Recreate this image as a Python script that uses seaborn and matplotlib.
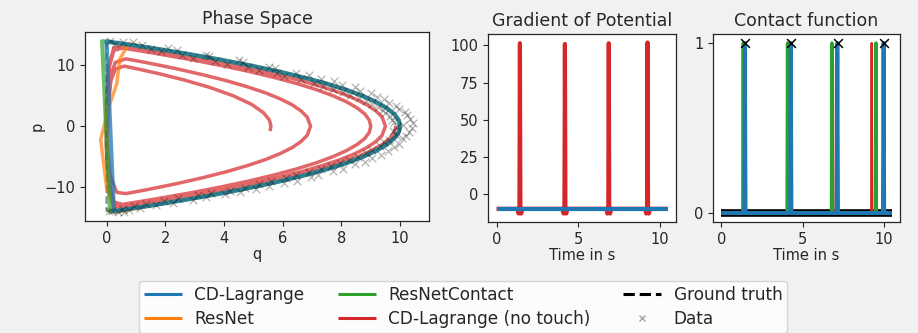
import matplotlib
matplotlib.use("Agg")
import matplotlib.pyplot as plt
from matplotlib.lines import Line2D
import seaborn as sns

# ---------------- data: phase space ----------------
# interior points of the outer (true) orbit
upper_p = [13, 12, 11, 10, 9, 8, 7, 6, 5, 4, 3, 2, 1, 0]
upper_q = [1.38, 2.65, 3.83, 4.90, 5.87, 6.73, 7.50, 8.16, 8.72, 9.18, 9.54, 9.80, 9.95, 10.0]
lower_p = [0, -1, -2, -3, -4, -5, -6, -7, -8, -9, -10, -11, -12, -13]
lower_q = [10.0, 9.95, 9.80, 9.55, 9.20, 8.75, 8.21, 7.56, 6.81, 5.97, 5.03, 3.98, 2.83, 1.60]

# bounce (left edge) points of each model
blue_bounce_q = [0.25, 0.0]
blue_bounce_p = [-14.0, 14.0]
green_bounce_q = [0.12, -0.15]
green_bounce_p = [-14.1, 14.0]
orange_bounce_q = [0.30, 0.0, -0.2, 0.1, 0.35, 0.45, 0.75]
orange_bounce_p = [-14.2, -10.0, -2.2, 3.5, 7.0, 11.0, 13.6]
gt_bounce_q = [0.0, 0.0]
gt_bounce_p = [-14.0, 14.0]

# CD-Lagrange (no touch): spiralling orbit
red_seg0_q = [9.85, 9.80, 9.65, 9.39, 9.03, 8.57, 8.01, 7.35, 6.58, 5.72, 4.75, 3.68, 2.50, 1.23, 0.55]
red_seg0_p = [0, -1, -2, -3, -4, -5, -6, -7, -8, -9, -10, -11, -12, -13, -13.5]
red_b1_q = [0.25, 0.08, 0.0, 0.0, 0.08, 0.25]
red_b1_p = [-13.1, -10, -4, 4, 10, 12.9]
red_a_up_q = [0.55, 1.53, 2.75, 3.88, 4.90, 5.81, 6.63, 7.34, 7.96, 8.47, 8.875, 9.18, 9.385, 9.5]
red_a_up_p = [13.24, 12.5, 11.5, 10.5, 9.5, 8.5, 7.5, 6.5, 5.5, 4.5, 3.5, 2.5, 1.5, 0]
red_a_lo_q = [9.385, 9.18, 8.875, 8.47, 7.96, 7.34, 6.63, 5.81, 4.90, 3.88, 2.75, 1.53, 0.55]
red_a_lo_p = [-1.5, -2.5, -3.5, -4.5, -5.5, -6.5, -7.5, -8.5, -9.5, -10.5, -11.5, -12.5, -13.24]
red_b2_q = [0.25, 0.08, 0.0, 0.0, 0.08, 0.25]
red_b2_p = [-12.8, -9.5, -4, 4, 9.5, 12.5]
red_b_up_q = [0.55, 1.65, 2.83, 3.90, 4.87, 5.73, 6.50, 7.16, 7.72, 8.18, 8.54, 8.80, 8.95, 9.0]
red_b_up_p = [12.87, 12, 11, 10, 9, 8, 7, 6, 5, 4, 3, 2, 1, 0]
red_b_lo_q = [8.95, 8.80, 8.54, 8.18, 7.72, 7.16, 6.50, 5.73, 4.87, 3.90, 2.83, 1.65, 0.55]
red_b_lo_p = [-1, -2, -3, -4, -5, -6, -7, -8, -9, -10, -11, -12, -12.87]
red_b3_q = [0.25, 0.08, 0.0, 0.05, 0.15, 0.30]
red_b3_p = [-12.5, -9, -3, 4, 8.5, 10.5]
red_c_up_q = [0.66, 1.33, 2.35, 3.26, 4.08, 4.79, 5.41, 5.92, 6.33, 6.63, 6.835, 6.95]
red_c_up_p = [11.1, 10.5, 9.5, 8.5, 7.5, 6.5, 5.5, 4.5, 3.5, 2.5, 1.5, 0]
red_c_lo_q = [6.835, 6.63, 6.33, 5.92, 5.41, 4.79, 4.08, 3.26, 2.35, 1.33, 0.66]
red_c_lo_p = [-1.5, -2.5, -3.5, -4.5, -5.5, -6.5, -7.5, -8.5, -9.5, -10.5, -11.1]
red_b4_q = [0.35, 0.12, 0.02, 0.05, 0.15, 0.30]
red_b4_p = [-10.9, -8, -3, 3, 7.5, 9.4]
red_end_q = [0.60, 1.09, 1.83, 2.65, 3.51, 4.32, 4.94, 5.35, 5.55, 5.6, 5.57]
red_end_p = [9.9, 9.4, 8.6, 7.6, 6.4, 5.0, 3.6, 2.2, 1.0, 0, -0.8]

# noisy observations
data_q = [0.12, 0.55, 1.52, 2.10, 2.58, 3.40, 3.70, 4.51, 4.82, 5.55, 5.80, 6.45, 6.62, 7.30, 7.38,
          8.02, 8.05, 8.65, 8.60, 9.20, 9.05, 9.62, 9.40, 9.95, 9.65, 10.25, 9.80, 10.35, 10.10,
          10.40, 9.75, 10.20, 9.62, 9.95, 9.30, 9.60, 8.85, 9.05, 8.25, 8.45, 7.65, 7.70, 6.90, 6.95,
          6.10, 6.05, 5.20, 5.10, 4.20, 4.05, 3.10, 2.95, 1.95, 1.70, 0.95, 0.75, 0.40, 0.20,
          0.30, 0.90, 1.20, 1.85, 2.40, 2.95, 3.50, 4.10, 4.65, 5.20, 5.75, 6.05, 6.90, 7.05, 7.75,
          7.70, 8.45, 8.30, 9.00, 8.85, 9.45, 9.25, 9.85, 9.50, 10.15, 9.72, 10.45, 9.90,
          10.30, 9.85, 10.05, 9.45, 9.80, 9.05, 9.35, 8.55, 8.80, 7.95, 8.05, 7.30, 7.20, 6.45, 6.50,
          5.60, 5.55, 4.70, 4.55, 3.55, 3.40, 2.45, 2.25, 1.35, 1.15, 0.55, 0.60, 0.10]
data_p = [14.1, 13.8, 12.7, 12.9, 11.7, 11.8, 10.7, 10.9, 9.7, 9.8, 8.7, 8.8, 7.7, 7.8, 6.7,
          6.8, 5.7, 5.8, 4.7, 4.8, 3.7, 3.8, 2.7, 2.8, 1.7, 1.8, 0.7, 1.2, 0.2,
          -0.3, -0.8, -1.6, -2.2, -2.9, -3.3, -4.1, -4.4, -5.2, -5.6, -6.3, -6.6, -7.4, -7.6, -8.4,
          -8.6, -9.4, -9.6, -10.3, -10.6, -11.2, -11.4, -12.1, -12.3, -12.9, -13.2, -13.8, -14.2, -13.9,
          13.6, 13.9, 13.3, 12.4, 12.6, 11.3, 11.5, 10.3, 10.6, 9.3, 9.6, 8.2, 8.4, 7.1, 7.4,
          6.1, 6.4, 5.1, 5.4, 4.1, 4.4, 3.1, 3.4, 2.1, 2.4, 1.1, 0.6, -0.2,
          -0.9, -1.4, -2.0, -2.6, -3.5, -3.9, -4.7, -5.0, -5.9, -6.1, -7.0, -7.1, -8.0, -8.1, -9.0,
          -9.1, -9.9, -10.1, -10.9, -11.0, -11.7, -11.9, -12.6, -12.8, -13.5, -13.6, -14.1, -14.0]

# ---------------- data: gradient of potential ----------------
grad_t_blue = [0.0, 10.45]
grad_blue = [-9.8, -9.8]
grad_t_red = [0.0, 1.28, 1.35, 1.40, 1.43, 1.46, 1.51, 1.58,
              4.03, 4.10, 4.15, 4.18, 4.21, 4.26, 4.33,
              6.71, 6.78, 6.83, 6.86, 6.89, 6.94, 7.01,
              9.08, 9.15, 9.20, 9.23, 9.26, 9.31, 9.38, 10.45]
grad_red = [-9.8, -9.8, -13.0, -9.5, 101.5, -9.5, -13.0, -9.8,
            -9.8, -13.0, -9.5, 101.0, -9.5, -13.0, -9.8,
            -9.8, -13.0, -9.5, 101.5, -9.5, -13.0, -9.8,
            -9.8, -13.0, -9.5, 102.0, -9.5, -13.0, -9.8, -9.8]

# ---------------- data: contact function ----------------
con_t_blue = [0.0, 1.40, 1.44, 1.48, 4.22, 4.26, 4.30, 7.08, 7.12, 7.16, 9.92, 9.96, 10.0, 10.45]
con_blue = [0, 0, 1, 0, 0, 1, 0, 0, 1, 0, 0, 1, 0, 0]
con_t_green = [0.0, 1.31, 1.34, 1.37, 4.03, 4.06, 4.09, 6.76, 6.79, 6.82, 9.46, 9.49, 9.52, 10.45]
con_green = [0, 0, 1, 0, 0, 1, 0, 0, 1, 0, 0, 1, 0, 0]
con_t_red = [0.0, 1.40, 1.43, 1.46, 4.14, 4.17, 4.20, 6.82, 6.85, 6.88, 9.20, 9.23, 9.26, 10.45]
con_red = [0, 0, 1, 0, 0, 1, 0, 0, 0.88, 0, 0, 1, 0, 0]
con_t_gt = [0.0, 10.45]
con_gt = [0, 0]
con_t_data = [1.44, 4.28, 7.14, 10.0]
con_data = [1, 1, 1, 1]

labels = ["CD-Lagrange", "ResNet", "ResNetContact", "CD-Lagrange (no touch)", "Ground truth", "Data"]

# ---------------- style ----------------
sns.set_style("ticks")
plt.rcParams.update({
    "figure.facecolor": "#f1f1f1",
    "axes.edgecolor": "0.15",
    "axes.linewidth": 0.9,
    "xtick.color": "0.15",
    "ytick.color": "0.15",
    "xtick.labelsize": 10.5,
    "ytick.labelsize": 10.5,
    "axes.labelsize": 10.5,
    "axes.titlesize": 12.5,
    "lines.solid_capstyle": "butt",
})
plt.rcParams["font.family"] = ["DejaVu Sans"]
pal = sns.color_palette("tab10")
c_blue, c_orange, c_green, c_red = pal[0], pal[1], pal[2], pal[3]

fig = plt.figure(figsize=(9.18, 3.33), dpi=100)
ax1 = fig.add_axes([0.0926, 0.3363, 0.3747, 0.5676])
ax2 = fig.add_axes([0.5316, 0.3333, 0.2048, 0.5646])
ax3 = fig.add_axes([0.7767, 0.3333, 0.2037, 0.5646])

# ---------------- phase space ----------------
red_q = (red_seg0_q + red_b1_q + red_a_up_q + red_a_lo_q + red_b2_q + red_b_up_q + red_b_lo_q
         + red_b3_q + red_c_up_q + red_c_lo_q + red_b4_q + red_end_q)
red_p = (red_seg0_p + red_b1_p + red_a_up_p + red_a_lo_p + red_b2_p + red_b_up_p + red_b_lo_p
         + red_b3_p + red_c_up_p + red_c_lo_p + red_b4_p + red_end_p)
kw = dict(sort=False, estimator=None, ax=ax1, legend=False)
sns.lineplot(x=red_q, y=red_p, color=c_red, lw=2.5, alpha=0.7, **kw)
sns.lineplot(x=lower_q + gt_bounce_q + upper_q, y=lower_p + gt_bounce_p + upper_p,
             color="k", lw=1.5, ls="--", alpha=0.45, **kw)
sns.lineplot(x=lower_q + orange_bounce_q + upper_q, y=lower_p + orange_bounce_p + upper_p,
             color=c_orange, lw=2.5, alpha=0.7, **kw)
sns.lineplot(x=lower_q + green_bounce_q + upper_q, y=lower_p + green_bounce_p + upper_p,
             color=c_green, lw=3.0, alpha=0.7, **kw)
sns.lineplot(x=lower_q + blue_bounce_q + upper_q, y=lower_p + blue_bounce_p + upper_p,
             color=c_blue, lw=3.0, alpha=0.75, **kw)
sns.scatterplot(x=data_q, y=data_p, marker="x", color="k", alpha=0.3, s=30, linewidth=0.9,
                ax=ax1, legend=False, zorder=5)
ax1.set_title("Phase Space")
ax1.set_xlabel("q", labelpad=1)
ax1.set_ylabel("p", labelpad=0)
ax1.set_xticks([0, 2, 4, 6, 8, 10])
ax1.set_yticks([-10, 0, 10])

# ---------------- gradient of potential ----------------
sns.lineplot(x=grad_t_red, y=grad_red, color=c_red, lw=3.0, ax=ax2, sort=False, estimator=None)
sns.lineplot(x=grad_t_blue, y=grad_blue, color=c_blue, lw=3.0, ax=ax2, sort=False, estimator=None)
ax2.set_title("Gradient of Potential")
ax2.set_xlabel("Time in s", labelpad=1)
ax2.set_ylabel("")
ax2.set_xlim(-0.52, 10.97)
ax2.set_ylim(-18.7, 107.7)
ax2.set_xticks([0, 5, 10])
ax2.set_yticks([0, 25, 50, 75, 100])

# ---------------- contact function ----------------
sns.lineplot(x=con_t_gt, y=con_gt, color="k", lw=5.5, ax=ax3, sort=False, estimator=None)
sns.lineplot(x=con_t_red, y=con_red, color=c_red, lw=1.6, ax=ax3, sort=False, estimator=None)
sns.lineplot(x=con_t_green, y=con_green, color=c_green, lw=2.4, ax=ax3, sort=False, estimator=None)
sns.lineplot(x=con_t_blue, y=con_blue, color=c_blue, lw=2.8, ax=ax3, sort=False, estimator=None)
sns.scatterplot(x=con_t_data, y=con_data, marker="x", color="k", s=40, linewidth=1.1,
                ax=ax3, legend=False, zorder=5)
ax3.set_title("Contact function")
ax3.set_xlabel("Time in s", labelpad=1)
ax3.set_ylabel("")
ax3.set_xlim(-0.52, 10.97)
ax3.set_ylim(-0.053, 1.053)
ax3.set_xticks([0, 5, 10])
ax3.set_yticks([0, 1])

# ---------------- legend ----------------
handles = [
    Line2D([], [], color=c_blue, lw=2.2),
    Line2D([], [], color=c_orange, lw=2.2),
    Line2D([], [], color=c_green, lw=2.2),
    Line2D([], [], color=c_red, lw=2.2),
    Line2D([], [], color="k", lw=2.2, ls="--"),
    Line2D([], [], color="k", marker="x", ls="none", alpha=0.35, markersize=5),
]
fig.legend(handles, labels, ncol=3, loc="upper left", bbox_to_anchor=(139 / 918, 1 - 281 / 333),
           borderaxespad=0.0, fontsize=12.2, frameon=True, columnspacing=1.95,
           handlelength=2.25, handletextpad=0.72, labelspacing=0.36, borderpad=0.3)

fig.savefig("out.png", dpi=100, facecolor=fig.get_facecolor())
